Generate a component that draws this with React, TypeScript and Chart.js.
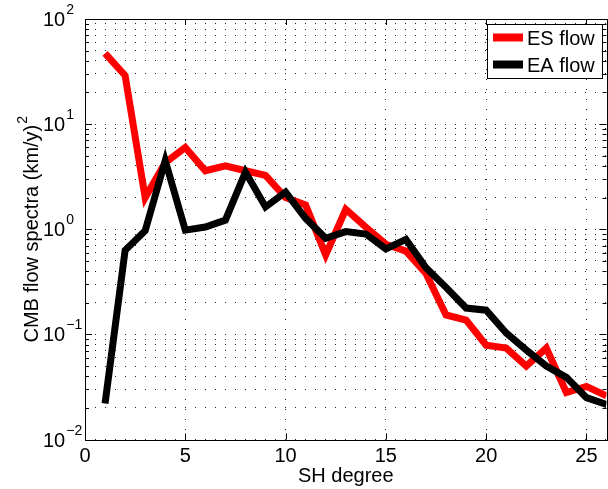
import React, { useEffect, useRef } from "react";
import { Chart, registerables } from "chart.js";
Chart.register(...registerables);

const degrees = [1, 2, 3, 4, 5, 6, 7, 8, 9, 10, 11, 12, 13, 14, 15, 16, 17, 18, 19, 20, 21, 22, 23, 24, 25, 26];
const esFlow = [47, 29, 2.0, 4.3, 6.0, 3.6, 4.0, 3.6, 3.25, 2.0, 1.7, 0.57, 1.55, 1.05, 0.72, 0.62, 0.38, 0.153, 0.137, 0.079, 0.074, 0.05, 0.074, 0.028, 0.032, 0.026];
const eaFlow = [0.022, 0.63, 0.97, 4.5, 0.98, 1.05, 1.22, 3.5, 1.63, 2.26, 1.27, 0.82, 0.95, 0.9, 0.65, 0.8, 0.43, 0.28, 0.178, 0.17, 0.103, 0.071, 0.05, 0.039, 0.025, 0.0215];
const seriesLabels = ["ES flow", "EA flow"];
const seriesColors = ["#ff0000", "#000000"];
const xTickValues = [0, 5, 10, 15, 20, 25];
const yExponents = [-2, -1, 0, 1, 2];
const xTitle = "SH degree";
const yTitle = "CMB flow spectra (km/y)";
const yTitleSup = "2";

const FONT = '"Liberation Sans", Arial, Helvetica, sans-serif';

const yGridValues: number[] = [];
for (let e = -2; e <= 1; e++) {
  for (let m = 1; m <= 9; m++) yGridValues.push(parseFloat((m * Math.pow(10, e)).toPrecision(6)));
}
yGridValues.push(100);

const supText = (e: number) => (e < 0 ? "\u2212" + Math.abs(e) : String(e));

const matlabPlugin = {
  id: "matlabDecor",
  afterDatasetsDraw(chart: any) {
    const { ctx, chartArea: a, scales } = chart;
    const x = scales.x;
    const y = scales.y;
    ctx.save();
    // tick marks
    ctx.strokeStyle = "#000";
    ctx.lineWidth = 1;
    ctx.setLineDash([]);
    ctx.beginPath();
    for (const v of xTickValues) {
      const px = Math.round(x.getPixelForValue(v)) + 0.5;
      ctx.moveTo(px, a.bottom);
      ctx.lineTo(px, a.bottom - 6);
      ctx.moveTo(px, a.top);
      ctx.lineTo(px, a.top + 6);
    }
    for (const v of yGridValues) {
      const py = Math.round(y.getPixelForValue(v)) + 0.5;
      const major = Math.abs(Math.log10(v) - Math.round(Math.log10(v))) < 1e-9;
      const len = major ? 7 : 4;
      ctx.moveTo(a.left, py);
      ctx.lineTo(a.left + len, py);
      ctx.moveTo(a.right, py);
      ctx.lineTo(a.right - len, py);
    }
    ctx.stroke();
    // frame
    ctx.strokeRect(Math.round(a.left) + 0.5, Math.round(a.top) + 0.5, Math.round(a.right - a.left), Math.round(a.bottom - a.top));

    // x tick labels
    ctx.fillStyle = "#000";
    ctx.font = `20px ${FONT}`;
    ctx.textAlign = "center";
    ctx.textBaseline = "alphabetic";
    for (const v of xTickValues) {
      ctx.fillText(String(v), x.getPixelForValue(v), 462);
    }
    // x title
    ctx.fillText(xTitle, (a.left + a.right) / 2, 482);

    // y tick labels
    ctx.textAlign = "left";
    for (const e of yExponents) {
      const py = y.getPixelForValue(Math.pow(10, e));
      ctx.font = `20px ${FONT}`;
      ctx.fillText("10", 43, py + 7);
      const w = ctx.measureText("10").width;
      ctx.font = `14px ${FONT}`;
      ctx.fillText(supText(e), 43 + w + 1, py - 5);
    }

    // y title
    ctx.save();
    ctx.translate(38, (a.top + a.bottom) / 2);
    ctx.rotate(-Math.PI / 2);
    ctx.font = `20px ${FONT}`;
    const mw = ctx.measureText(yTitle).width;
    ctx.font = `14px ${FONT}`;
    const sw = ctx.measureText(yTitleSup).width;
    const total = mw + sw + 1;
    ctx.font = `20px ${FONT}`;
    ctx.textAlign = "left";
    ctx.fillText(yTitle, -total / 2, 0);
    ctx.font = `14px ${FONT}`;
    ctx.fillText(yTitleSup, -total / 2 + mw + 1, -11);
    ctx.restore();

    // legend
    const lx = 487.5, ly = 24.5, lw = 115, lh = 54;
    ctx.fillStyle = "#fff";
    ctx.fillRect(lx, ly, lw, lh);
    ctx.strokeStyle = "#000";
    ctx.lineWidth = 1;
    ctx.strokeRect(lx, ly, lw, lh);
    const rows = [37.5, 64.5];
    seriesLabels.forEach((lab, i) => {
      ctx.strokeStyle = seriesColors[i];
      ctx.lineWidth = 8;
      ctx.beginPath();
      ctx.moveTo(493, rows[i]);
      ctx.lineTo(523, rows[i]);
      ctx.stroke();
      ctx.fillStyle = "#000";
      ctx.font = `20px ${FONT}`;
      ctx.textAlign = "left";
      ctx.fillText(lab, 527, rows[i] + 7);
    });
    ctx.restore();
  },
};

export default function App() {
  const ref = useRef<HTMLCanvasElement | null>(null);
  useEffect(() => {
    if (!ref.current) return;
    const chart = new Chart(ref.current, {
      type: "line",
      data: {
        datasets: [
          {
            label: seriesLabels[0],
            data: degrees.map((d, i) => ({ x: d, y: esFlow[i] })),
            borderColor: seriesColors[0],
            backgroundColor: seriesColors[0],
            borderWidth: 7,
            pointRadius: 0,
            borderJoinStyle: "miter",
            borderCapStyle: "butt",
            tension: 0,
            order: 1,
          },
          {
            label: seriesLabels[1],
            data: degrees.map((d, i) => ({ x: d, y: eaFlow[i] })),
            borderColor: seriesColors[1],
            backgroundColor: seriesColors[1],
            borderWidth: 7,
            pointRadius: 0,
            borderJoinStyle: "miter",
            borderCapStyle: "butt",
            tension: 0,
            order: 0,
          },
        ],
      },
      options: {
        animation: false,
        responsive: false,
        devicePixelRatio: 1,
        layout: { padding: { left: 85, top: 19, right: 1.5, bottom: 49.5 } },
        plugins: { legend: { display: false }, tooltip: { enabled: false } },
        scales: {
          x: {
            type: "linear",
            min: 0,
            max: 26,
            ticks: { display: false },
            afterBuildTicks: (s: any) => {
              s.ticks = xTickValues.map((v) => ({ value: v }));
            },
            afterFit: (s: any) => {
              s.height = 0;
            },
            grid: { color: "#222", lineWidth: 1, drawTicks: false },
            border: { display: false, dash: [1, 9] },
          },
          y: {
            type: "logarithmic",
            min: 0.01,
            max: 100,
            ticks: { display: false },
            afterBuildTicks: (s: any) => {
              s.ticks = yGridValues.map((v) => ({ value: v }));
            },
            afterFit: (s: any) => {
              s.width = 0;
            },
            grid: { color: "#222", lineWidth: 1, drawTicks: false },
            border: { display: false, dash: [1, 9] },
          },
        },
      },
      plugins: [matlabPlugin],
    } as any);
    return () => chart.destroy();
  }, []);
  return (
    <div style={{ position: "fixed", left: 0, top: 0, width: 608, height: 489, background: "#fff" }}>
      <canvas ref={ref} width={608} height={489} />
    </div>
  );
}
